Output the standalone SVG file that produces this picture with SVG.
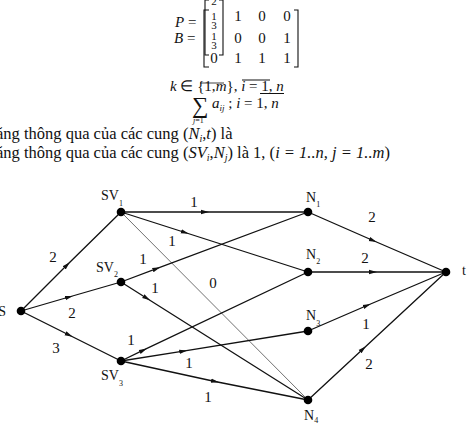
<svg xmlns="http://www.w3.org/2000/svg" width="474" height="436" viewBox="0 0 474 436">
<style>
text{font-family:"Liberation Serif","Times New Roman",serif;fill:#111}
.t{font-size:16.5px}
.m{font-size:15px}
.f{font-size:11px}
.it{font-style:italic}
.lbl{font-size:15px;text-anchor:middle}
.nl{font-size:14px}
.sub{font-size:8px}
.e{stroke:#111;stroke-width:1.3;fill:none;marker-mid:url(#ar)}
.thin{stroke:#333;stroke-width:0.7;fill:none}
.br{stroke:#111;stroke-width:1.1;fill:none}
.dot{fill:#000}
</style>
<defs>
<marker id="ar" viewBox="0 0 8 6" refX="4" refY="3" markerWidth="8" markerHeight="6" markerUnits="userSpaceOnUse" orient="auto">
<path d="M0,0.8 L8,3 L0,5.2 Z" fill="#111"/>
</marker>
</defs>

<!-- formula block -->
<g id="matrix">
<text class="m" x="175" y="27"><tspan class="it">P</tspan> =</text>
<text class="m" x="174" y="43"><tspan class="it">B</tspan> =</text>
<path class="br" d="M209,0 H205 V55 H209 M219,0 H223 V55 H219"/>
<path class="br" d="M209,10 H204 V67 H209 M294,10 H298 V67 H294"/>
<text class="f" x="214" y="5" text-anchor="middle">2</text>
<text class="f" x="214" y="19.5" text-anchor="middle">1</text>
<text class="f" x="214" y="28.5" text-anchor="middle">3</text>
<text class="f" x="214" y="39.5" text-anchor="middle">1</text>
<text class="f" x="214" y="48.5" text-anchor="middle">3</text>
<text class="m" x="214" y="63" text-anchor="middle">0</text>
<text class="m" x="238" y="21" text-anchor="middle">1</text>
<text class="m" x="262" y="21" text-anchor="middle">0</text>
<text class="m" x="287" y="21" text-anchor="middle">0</text>
<text class="m" x="238" y="43" text-anchor="middle">0</text>
<text class="m" x="262" y="43" text-anchor="middle">0</text>
<text class="m" x="287" y="43" text-anchor="middle">1</text>
<text class="m" x="238" y="63" text-anchor="middle">1</text>
<text class="m" x="262" y="63" text-anchor="middle">1</text>
<text class="m" x="287" y="63" text-anchor="middle">1</text>
</g>

<g id="formula">
<text class="m" x="170" y="91"><tspan class="it">k</tspan> ∈ {1,<tspan class="it">m</tspan>}, <tspan class="it">i</tspan> = 1, <tspan class="it">n</tspan></text>
<line x1="242" y1="80" x2="270" y2="80" stroke="#111" stroke-width="1"/>
<line x1="200" y1="83" x2="224" y2="83" stroke="#111" stroke-width="0.8"/>
<text x="192" y="113" style="font-size:23px">∑</text>
<text class="m" x="212" y="108"><tspan class="it">a</tspan><tspan class="it" style="font-size:9px" dy="3">ij</tspan><tspan dy="-3"> ;</tspan><tspan class="it"> i</tspan> = 1, <tspan class="it">n</tspan></text>
<line x1="260" y1="93.5" x2="284" y2="93.5" stroke="#111" stroke-width="1"/>
<text x="193" y="123" style="font-size:8px" class="it">j<tspan style="font-style:normal">=1</tspan></text>
</g>

<g id="text-lines">
<text class="t" x="-4" y="139">ăng thông qua của các cung (<tspan class="it">N</tspan><tspan class="it" style="font-size:10px" dy="3">i</tspan><tspan dy="-3">,</tspan><tspan class="it">t</tspan>) là</text>
<text class="t" x="-4" y="158">ăng thông qua của các cung (<tspan class="it">SV</tspan><tspan class="it" style="font-size:10px" dy="3">i</tspan><tspan dy="-3">,</tspan><tspan class="it">N</tspan><tspan class="it" style="font-size:10px" dy="3">j</tspan><tspan dy="-3">) là 1, (</tspan><tspan class="it">i = 1..n, j = 1..m</tspan>)</text>
</g>

<!-- connectors -->
<g id="edges">
<path class="e" d="M21,311 L67,265 L121,212"/>
<path class="e" d="M21,311 L69,297 L121,282"/>
<path class="e" d="M21,311 L69,335 L121,361"/>
<path class="e" d="M121,212 L205,212 L308,212"/>
<path class="e" d="M121,212 L185,232.5 L308,272"/>
<path class="thin" d="M121,212 L308,400"/>
<path class="e" d="M121,282 L156.5,268.7 L308,212"/>
<path class="e" d="M121,282 L146.7,298.2 L308,400"/>
<path class="e" d="M121,361 L143.3,350.2 L308,272"/>
<path class="e" d="M121,361 L183.3,351.2 L308,331"/>
<path class="e" d="M121,361 L215,381.5 L308,400"/>
<path class="e" d="M308,212 L373,240.5 L446,272"/>
<path class="e" d="M308,272 L373,272 L446,272"/>
<path class="e" d="M308,331 L367,305.5 L446,272"/>
<path class="e" d="M308,400 L363,349 L446,272"/>
</g>

<g id="edge-labels">
<text class="lbl" x="53" y="262">2</text>
<text class="lbl" x="72" y="318">2</text>
<text class="lbl" x="56" y="353">3</text>
<text class="lbl" x="194" y="207">1</text>
<text class="lbl" x="172" y="246">1</text>
<text class="lbl" x="143" y="264">1</text>
<text class="lbl" x="155" y="293">1</text>
<text class="lbl" x="213" y="288">0</text>
<text class="lbl" x="131" y="345">1</text>
<text class="lbl" x="189" y="368">1</text>
<text class="lbl" x="208" y="402">1</text>
<text class="lbl" x="372" y="222">2</text>
<text class="lbl" x="365" y="263">2</text>
<text class="lbl" x="366" y="329">1</text>
<text class="lbl" x="369" y="369">2</text>
</g>

<!-- nodes -->
<g id="S"><circle class="dot" cx="21" cy="311" r="4.3"/><text class="nl" x="6" y="316" text-anchor="end">S</text></g>
<g id="SV1"><circle class="dot" cx="121" cy="212" r="4.3"/><text class="nl" x="101" y="200">SV<tspan class="sub" dy="6">1</tspan></text></g>
<g id="SV2"><circle class="dot" cx="121" cy="282" r="4.3"/><text class="nl" x="96" y="272">SV<tspan class="sub" dy="5">2</tspan></text></g>
<g id="SV3"><circle class="dot" cx="121" cy="361" r="4.3"/><text class="nl" x="101" y="380">SV<tspan class="sub" dy="6">3</tspan></text></g>
<g id="N1"><circle class="dot" cx="308" cy="212" r="4.3"/><text class="nl" x="306" y="202">N<tspan class="sub" dy="5">1</tspan></text></g>
<g id="N2"><circle class="dot" cx="308" cy="272" r="4.3"/><text class="nl" x="306" y="259">N<tspan class="sub" dy="5">2</tspan></text></g>
<g id="N3"><circle class="dot" cx="308" cy="331" r="4.3"/><text class="nl" x="306" y="320">N<tspan class="sub" dy="6">3</tspan></text></g>
<g id="N4"><circle class="dot" cx="308" cy="400" r="4.3"/><text class="nl" x="304" y="420">N<tspan class="sub" dy="3">4</tspan></text></g>
<g id="t"><circle class="dot" cx="446" cy="272" r="4.3"/><text class="nl" x="462" y="275">t</text></g>
</svg>
